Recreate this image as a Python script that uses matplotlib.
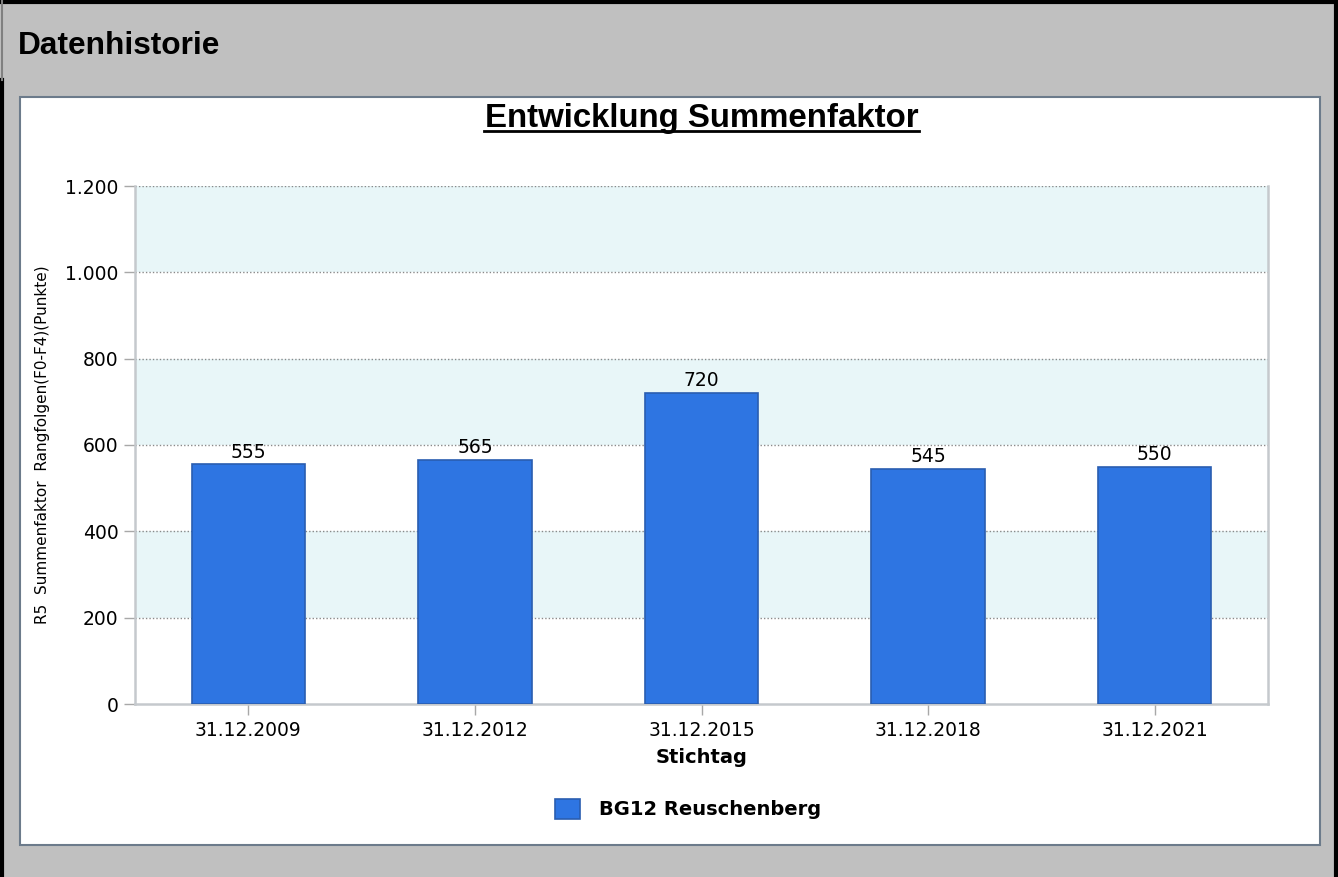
import matplotlib
matplotlib.use("Agg")
import matplotlib.pyplot as plt
from matplotlib.patches import Rectangle
from matplotlib.lines import Line2D

categories = ["31.12.2009", "31.12.2012", "31.12.2015", "31.12.2018", "31.12.2021"]
values = [555, 565, 720, 545, 550]
yticks = [0, 200, 400, 600, 800, 1000, 1200]
ytick_labels = ["0", "200", "400", "600", "800", "1.000", "1.200"]
series_name = "BG12 Reuschenberg"

W, H = 1338, 877
fig = plt.figure(figsize=(W / 100, H / 100), dpi=100)
fig.patch.set_facecolor("#c0c0c0")

def fx(px):
    return px / W

def fy(py):
    return 1 - py / H

# white panel
fig.patches.append(Rectangle((fx(20), fy(845)), fx(1320) - fx(20), fy(97) - fy(845),
                             transform=fig.transFigure, facecolor="white",
                             edgecolor="#6c7b8b", linewidth=1.5, zorder=-10))
# outer black border
for (x0, y0, x1, y1) in [(0, 1.5, W, 1.5), (W - 2, 0, W - 2, H), (1.5, 80, 1.5, H)]:
    fig.lines.append(Line2D([fx(x0), fx(x1)], [fy(y0), fy(y1)], transform=fig.transFigure,
                            color="black", linewidth=3, zorder=-5))
fig.lines.append(Line2D([fx(1.5), fx(1.5)], [fy(0), fy(80)], transform=fig.transFigure,
                        color="#808080", linewidth=1.5, zorder=-5))

fig.text(fx(18), fy(46), "Datenhistorie", fontsize=22.8, fontweight="bold",
         family="Liberation Sans", va="center", ha="left")

fig.text(fx(701.5), fy(118), "Entwicklung Summenfaktor", fontsize=23.8, fontweight="bold",
         family="Liberation Sans", va="center", ha="center")
fig.lines.append(Line2D([fx(484), fx(919)], [fy(131), fy(131)], transform=fig.transFigure,
                        color="black", linewidth=2))

ax = fig.add_axes([fx(135), fy(704), fx(1268) - fx(135), fy(186) - fy(704)])
ax.set_facecolor("white")
ax.set_xlim(-0.5, len(categories) - 0.5)
ax.set_ylim(0, 1200)

# alternating bands
for i in range(len(yticks) - 1):
    if i % 2 == 1:
        ax.axhspan(yticks[i], yticks[i + 1], color="#e8f6f8", zorder=0, linewidth=0)
for yv in yticks[1:]:
    ax.axhline(yv, color="#8a8a8a", linestyle=(0, (1, 1.5)), linewidth=1, zorder=1)

x = list(range(len(categories)))
bars = ax.bar(x, values, width=0.5, color="#2e75e2", edgecolor="#2a5db0",
              linewidth=1.2, zorder=3, label=series_name)
ax.bar_label(bars, labels=[str(v) for v in values], padding=2, fontsize=13.5,
             family="DejaVu Sans", color="black")

ax.set_xticks(x)
ax.set_xticklabels(categories, fontsize=13.5, family="DejaVu Sans")
ax.set_yticks(yticks)
ax.set_yticklabels(ytick_labels, fontsize=13.5, family="DejaVu Sans")
ax.tick_params(axis="both", length=8, width=1, color="#a8a8a8", pad=4)

for side in ["left", "bottom", "right"]:
    ax.spines[side].set_color("#c5c9cd")
    ax.spines[side].set_linewidth(1.8)
ax.spines["top"].set_visible(False)

ax.set_xlabel("Stichtag", fontsize=14, fontweight="bold", family="DejaVu Sans", labelpad=6)
fig.text(fx(43), fy(445), "R5  Summenfaktor  Rangfolgen(F0-F4)(Punkte)", rotation=90,
         fontsize=11, family="DejaVu Sans", va="center", ha="center")

leg = ax.legend(loc="center", bbox_to_anchor=(fx(688), fy(809)), bbox_transform=fig.transFigure,
                frameon=False, prop={"family": "DejaVu Sans", "weight": "bold", "size": 14},
                handlelength=1.3, handleheight=1.2, handletextpad=1.0)

fig.savefig("out.png", dpi=100, facecolor=fig.get_facecolor())
